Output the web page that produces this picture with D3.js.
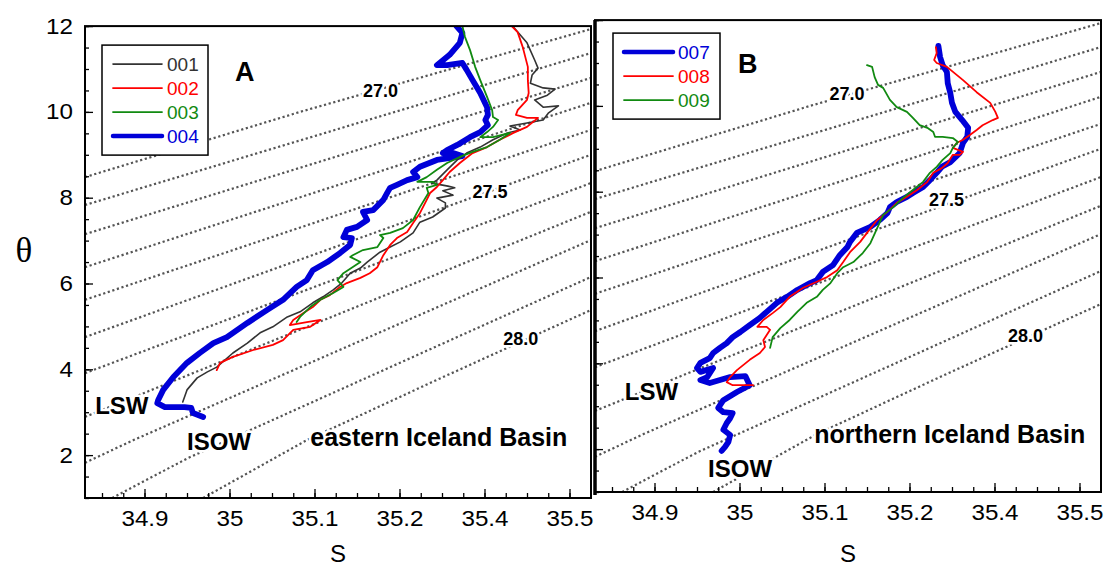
<!DOCTYPE html>
<html>
<head>
<meta charset="utf-8">
<script src="https://cdn.jsdelivr.net/npm/d3@7/dist/d3.min.js"></script>
<style>
    body { margin: 0; background: #fff; }
    svg { display: block; font-family: "Liberation Sans", Arial, sans-serif; }
</style>
</head>
<body>
<svg width="1107" height="570"></svg>
<script>
// casts, [S, theta]
const cast001 = [[35.334,11.98],[35.350,11.61],[35.359,11.21],[35.363,11.02],[35.356,10.86],[35.354,10.67],[35.369,10.56],[35.383,10.53],[35.374,10.39],[35.359,10.28],[35.369,10.11],[35.387,10.14],[35.375,9.97],[35.369,9.81],[35.350,9.74],[35.330,9.67],[35.342,9.58],[35.327,9.51],[35.310,9.35],[35.295,9.18],[35.279,9.04],[35.268,8.88],[35.256,8.65],[35.244,8.41],[35.238,8.34],[35.257,8.27],[35.265,8.23],[35.251,8.16],[35.263,8.06],[35.244,7.99],[35.254,7.88],[35.254,7.76],[35.239,7.55],[35.224,7.43],[35.216,7.18],[35.201,6.97],[35.189,6.85],[35.177,6.73],[35.162,6.50],[35.154,6.36],[35.142,6.24],[35.132,6.01],[35.122,5.85],[35.110,5.69],[35.098,5.55],[35.083,5.34],[35.068,5.22],[35.051,4.99],[35.036,4.85],[35.021,4.61],[35.004,4.38],[34.985,4.05],[34.974,3.94],[34.962,3.80],[34.950,3.52],[34.945,3.24]];
const cast002 = [[35.332,12.0],[35.339,11.86],[35.345,11.51],[35.351,11.05],[35.351,10.74],[35.352,10.44],[35.350,10.28],[35.339,10.04],[35.337,9.93],[35.350,9.86],[35.363,9.86],[35.350,9.65],[35.334,9.51],[35.318,9.35],[35.303,9.18],[35.286,9.04],[35.271,8.81],[35.259,8.60],[35.251,8.41],[35.244,8.25],[35.236,8.11],[35.232,7.95],[35.224,7.64],[35.216,7.41],[35.209,7.20],[35.197,7.06],[35.189,6.90],[35.181,6.66],[35.174,6.38],[35.165,6.24],[35.154,6.13],[35.138,6.01],[35.130,5.92],[35.118,5.73],[35.107,5.62],[35.098,5.45],[35.087,5.31],[35.075,5.15],[35.071,5.03],[35.091,5.10],[35.107,5.15],[35.095,4.99],[35.075,4.92],[35.063,4.68],[35.051,4.57],[35.028,4.45],[35.004,4.29],[34.989,4.15],[34.985,3.98]];
const cast003 = [[35.274,12.0],[35.277,11.75],[35.283,11.44],[35.289,11.05],[35.295,10.74],[35.303,10.35],[35.309,10.04],[35.310,9.88],[35.316,9.81],[35.310,9.65],[35.303,9.53],[35.295,9.41],[35.310,9.41],[35.330,9.51],[35.318,9.35],[35.303,9.18],[35.286,9.07],[35.271,8.95],[35.256,8.81],[35.244,8.65],[35.232,8.48],[35.221,8.37],[35.239,8.37],[35.244,8.30],[35.232,8.23],[35.234,8.11],[35.224,7.78],[35.216,7.48],[35.204,7.29],[35.189,7.18],[35.177,7.13],[35.181,7.06],[35.174,6.85],[35.157,6.78],[35.145,6.66],[35.142,6.62],[35.154,6.50],[35.134,6.24],[35.127,6.08],[35.134,5.92],[35.122,5.78],[35.107,5.62],[35.095,5.45],[35.083,5.22],[35.079,5.10]];
const cast004 = [[35.267,12.0],[35.274,11.84],[35.271,11.61],[35.259,11.33],[35.244,11.09],[35.256,11.09],[35.274,11.14],[35.279,10.98],[35.286,10.74],[35.295,10.44],[35.303,10.11],[35.304,9.93],[35.301,9.81],[35.304,9.69],[35.295,9.53],[35.283,9.41],[35.268,9.23],[35.256,9.11],[35.251,9.04],[35.263,9.04],[35.274,8.97],[35.244,8.88],[35.224,8.72],[35.216,8.60],[35.221,8.48],[35.209,8.41],[35.197,8.30],[35.189,8.23],[35.186,8.13],[35.181,7.95],[35.169,7.71],[35.157,7.67],[35.162,7.48],[35.150,7.32],[35.138,7.25],[35.134,7.08],[35.144,7.06],[35.142,6.90],[35.130,6.71],[35.115,6.50],[35.098,6.31],[35.091,6.08],[35.079,5.92],[35.063,5.62],[35.044,5.38],[35.021,5.08],[34.997,4.75],[34.981,4.61],[34.965,4.38],[34.950,4.15],[34.934,3.82],[34.922,3.52],[34.916,3.28],[34.915,3.21],[34.924,3.12],[34.947,3.12],[34.955,3.10],[34.957,2.98],[34.969,2.89]];
const cast007 = [[35.234,11.40],[35.236,11.14],[35.239,10.95],[35.244,10.79],[35.245,10.53],[35.248,10.30],[35.250,10.07],[35.254,9.86],[35.262,9.67],[35.269,9.49],[35.268,9.28],[35.263,9.14],[35.259,8.90],[35.248,8.69],[35.238,8.58],[35.232,8.44],[35.224,8.27],[35.216,8.11],[35.204,7.97],[35.197,7.88],[35.185,7.76],[35.177,7.64],[35.174,7.50],[35.165,7.34],[35.154,7.18],[35.138,7.04],[35.130,6.83],[35.127,6.71],[35.118,6.52],[35.110,6.29],[35.098,6.13],[35.091,5.94],[35.083,5.87],[35.068,5.71],[35.056,5.55],[35.044,5.41],[35.032,5.20],[35.024,5.06],[35.012,4.89],[35.001,4.73],[34.992,4.61],[34.985,4.47],[34.977,4.36],[34.969,4.24],[34.965,4.12],[34.954,4.01],[34.950,3.89],[34.954,3.80],[34.969,3.89],[34.962,3.68],[34.954,3.61],[34.965,3.54],[34.989,3.68],[35.007,3.70],[35.012,3.49],[34.997,3.33],[34.981,3.14],[34.975,2.96],[34.981,2.86],[34.992,2.84],[34.989,2.72],[34.985,2.61],[34.981,2.45],[34.989,2.33],[34.987,2.17],[34.983,2.05],[34.979,1.96]];
const cast008 = [[35.231,11.37],[35.232,11.23],[35.229,11.07],[35.232,11.00],[35.244,10.91],[35.263,10.60],[35.279,10.32],[35.295,10.07],[35.301,9.86],[35.304,9.72],[35.298,9.67],[35.286,9.55],[35.279,9.44],[35.271,9.32],[35.263,9.21],[35.256,9.14],[35.251,9.02],[35.263,8.93],[35.259,8.86],[35.251,8.86],[35.245,8.67],[35.238,8.55],[35.228,8.44],[35.221,8.23],[35.209,8.04],[35.197,7.88],[35.185,7.74],[35.174,7.53],[35.162,7.34],[35.150,7.04],[35.142,6.83],[35.130,6.59],[35.122,6.36],[35.115,6.17],[35.103,6.01],[35.091,5.90],[35.075,5.76],[35.059,5.55],[35.048,5.31],[35.039,5.17],[35.028,5.01],[35.021,4.85],[35.032,4.85],[35.036,4.78],[35.032,4.66],[35.028,4.54],[35.030,4.38],[35.024,4.24],[35.012,4.08],[34.997,3.84],[34.989,3.68],[34.985,3.56],[34.992,3.49],[35.016,3.49]];
const cast009 = [[35.150,10.95],[35.156,10.91],[35.159,10.67],[35.163,10.49],[35.169,10.42],[35.175,10.21],[35.177,10.14],[35.185,9.97],[35.197,9.86],[35.204,9.72],[35.212,9.55],[35.221,9.49],[35.228,9.39],[35.230,9.28],[35.239,9.28],[35.251,9.25],[35.257,9.16],[35.251,9.02],[35.248,8.90],[35.239,8.74],[35.232,8.58],[35.224,8.44],[35.216,8.23],[35.204,8.04],[35.192,7.85],[35.181,7.64],[35.169,7.46],[35.162,7.15],[35.154,6.80],[35.145,6.57],[35.134,6.36],[35.122,6.24],[35.115,6.10],[35.107,5.87],[35.098,5.71],[35.091,5.55],[35.079,5.41],[35.068,5.20],[35.059,5.01],[35.048,4.82],[35.039,4.61],[35.036,4.36]];

// sigma-theta isopycnals, 27.0 .. 28.0
const sigmaLevels = [27.0, 27.1, 27.2, 27.3, 27.4, 27.5, 27.6, 27.7, 27.8, 27.9, 28.0];
const isopycnals = [
    [[34.830,8.48],[35.083,10.00],[35.425,11.93]],
    [[34.830,7.83],[35.425,11.37]],
    [[34.830,7.15],[35.425,10.79]],
    [[34.830,6.38],[35.425,10.21]],
    [[34.830,5.62],[35.425,9.58]],
    [[34.830,4.75],[35.425,9.00]],
    [[34.830,3.91],[35.425,8.34]],
    [[34.830,2.89],[35.425,7.67]],
    [[34.830,1.82],[34.887,2.35],[35.425,7.01]],
    [[34.862,1.00],[34.951,1.93],[35.425,6.15]],
    [[34.969,1.00],[35.091,2.35],[35.238,3.70],[35.425,5.38]]
];
const sigmaLabels = ["27.0", "27.5", "28.0"];

const sTickValues = [34.9, 35.0, 35.1, 35.2, 35.3, 35.4];
const sTickLabels = ["34.9", "35", "35.1", "35.2", "35.4", "35.5"];
const thetaTickValues = [2, 4, 6, 8, 10, 12];

const sDomain = [34.83, 35.4253];
const thetaDomain = [1, 12];

let panels = [
    {
        letter: "A", left: 85, right: 591, bottom: 498, yLabels: true,
        casts: [cast001, cast002, cast003, cast004],
        names: ["001", "002", "003", "004"],
        colors: ["#333333", "#ff0000", "#118a11", "#0000d8"],
        widths: [1.6, 1.8, 1.8, 5.8],
        drawOrder: [3, 0, 1, 2],
        legend: { dx: 17, dy: 19, w: 106, h: 110, row0: 38, rowGap: 24 },
        letterPos: [150, 55],
        sigmaPos: [[35.157, 10.35], [35.286, 7.99], [35.322, 4.57]],
        notes: [
            { text: "LSW", at: [34.842, 2.96], size: 24 },
            { text: "ISOW", at: [34.950, 2.12], size: 24 },
            { text: "eastern Iceland Basin", at: [35.095, 2.21], size: 25 }
        ]
    },
    {
        letter: "B", left: 595, right: 1101, bottom: 492, yLabels: false,
        casts: [cast007, cast008, cast009],
        names: ["007", "008", "009"],
        colors: ["#0000d8", "#ff0000", "#118a11"],
        widths: [5.8, 1.8, 1.8],
        drawOrder: [0, 1, 2],
        legend: { dx: 18, dy: 13, w: 107, h: 86, row0: 32, rowGap: 24 },
        letterPos: [143, 53],
        sigmaPos: [[35.106, 10.14], [35.223, 7.67], [35.316, 4.50]],
        notes: [
            { text: "LSW", at: [34.865, 3.14], size: 24 },
            { text: "ISOW", at: [34.963, 1.35], size: 24 },
            { text: "northern Iceland Basin", at: [35.088, 2.14], size: 25 }
        ]
    }
];

let svg = d3.select("svg");

panels.forEach((p, pi) => {
    let x = d3.scaleLinear().domain(sDomain).range([p.left, p.right]);
    let y = d3.scaleLinear().domain(thetaDomain).range([p.bottom, p.bottom - 11 * 42.9]);
    let top = y(12);

    let g = svg.append("g");

    g.append("clipPath")
        .attr("id", "clip" + pi)
        .append("rect")
        .attr("x", p.left)
        .attr("y", top)
        .attr("width", p.right - p.left)
        .attr("height", p.bottom - top);

    let line = d3.line()
        .x(d => x(d[0]))
        .y(d => y(d[1]));

    // isopycnals
    g.append("g")
        .attr("clip-path", "url(#clip" + pi + ")")
        .selectAll("path")
        .data(isopycnals)
        .enter()
        .append("path")
        .attr("d", line)
        .attr("fill", "none")
        .attr("stroke", "#555")
        .attr("stroke-width", 2.2)
        .attr("stroke-dasharray", "2.2,2.6");

    // labels that cut the dotted lines
    let halo = g.append("g")
        .attr("font-weight", "bold")
        .attr("fill", "#000")
        .attr("stroke", "#fff")
        .attr("stroke-width", 5)
        .attr("paint-order", "stroke")
        .attr("stroke-linejoin", "round");

    halo.selectAll("text.sig")
        .data(sigmaLabels)
        .enter()
        .append("text")
        .attr("class", "sig")
        .attr("x", (d, i) => x(p.sigmaPos[i][0]))
        .attr("y", (d, i) => y(p.sigmaPos[i][1]))
        .attr("font-size", 18)
        .text(d => d);

    halo.selectAll("text.note")
        .data(p.notes)
        .enter()
        .append("text")
        .attr("class", "note")
        .attr("x", d => x(d.at[0]))
        .attr("y", d => y(d.at[1]))
        .attr("font-size", d => d.size)
        .text(d => d.text);

    // casts
    g.append("g")
        .attr("clip-path", "url(#clip" + pi + ")")
        .selectAll("path")
        .data(p.drawOrder)
        .enter()
        .append("path")
        .attr("d", i => line(p.casts[i]))
        .attr("fill", "none")
        .attr("stroke", i => p.colors[i])
        .attr("stroke-width", i => p.widths[i])
        .attr("stroke-linejoin", "round")
        .attr("stroke-linecap", "round");

    // axes, ticks point inward
    let minorS = d3.range(0, 24).map(i => 34.85 + i * 0.025).filter(v => v < sDomain[1]);
    let minorT = d3.range(0, 23).map(i => 1 + i * 0.5);

    g.append("g")
        .attr("transform", `translate(0,${p.bottom})`)
        .call(d3.axisBottom(x).tickValues(minorS).tickSizeInner(-5).tickSizeOuter(0).tickFormat(""))
        .call(a => a.select(".domain").remove());

    g.append("g")
        .attr("transform", `translate(0,${p.bottom})`)
        .call(d3.axisBottom(x)
            .tickValues(sTickValues)
            .tickFormat((d, i) => sTickLabels[i])
            .tickSizeInner(-9)
            .tickSizeOuter(0)
            .tickPadding(12))
        .call(a => a.select(".domain").remove())
        .call(a => a.selectAll("text")
            .attr("font-size", 22)
            .attr("font-family", "'Liberation Sans', Arial, sans-serif")
            .attr("fill", "#000")
            .attr("transform", "scale(1.1,1)"));

    g.append("g")
        .attr("transform", `translate(${p.left},0)`)
        .call(d3.axisLeft(y).tickValues(minorT).tickSizeInner(-4).tickSizeOuter(0).tickFormat(""))
        .call(a => a.select(".domain").remove());

    g.append("g")
        .attr("transform", `translate(${p.left},0)`)
        .call(d3.axisLeft(y)
            .tickValues(thetaTickValues)
            .tickFormat(p.yLabels ? d3.format("d") : "")
            .tickSizeInner(-8)
            .tickSizeOuter(0)
            .tickPadding(11))
        .call(a => a.select(".domain").remove())
        .call(a => a.selectAll("text")
            .attr("font-size", 22)
            .attr("font-family", "'Liberation Sans', Arial, sans-serif")
            .attr("fill", "#000")
            .attr("transform", "scale(1.1,1)"));

    g.selectAll(".tick line").attr("stroke", "#000").attr("stroke-width", 1.3);

    // frame
    g.append("rect")
        .attr("x", p.left)
        .attr("y", top)
        .attr("width", p.right - p.left)
        .attr("height", p.bottom - top)
        .attr("fill", "none")
        .attr("stroke", "#000")
        .attr("stroke-width", 2);

    if (pi == 1) {
        g.append("line")
            .attr("x1", p.left).attr("x2", p.left)
            .attr("y1", top).attr("y2", p.bottom + 3)
            .attr("stroke", "#000")
            .attr("stroke-width", 3.5);
    }

    // panel letter
    g.append("text")
        .attr("x", p.left + p.letterPos[0])
        .attr("y", top + p.letterPos[1])
        .attr("font-size", 27)
        .attr("font-weight", "bold")
        .text(p.letter);

    // legend
    let lg = p.legend;
    let leg = g.append("g")
        .attr("transform", `translate(${p.left + lg.dx},${top + lg.dy})`);

    leg.append("rect")
        .attr("width", lg.w)
        .attr("height", lg.h)
        .attr("fill", "#fff")
        .attr("stroke", "#000")
        .attr("stroke-width", 1.5);

    let rows = leg.selectAll("g.row")
        .data(p.names)
        .enter()
        .append("g")
        .attr("class", "row")
        .attr("transform", (d, i) => `translate(0,${lg.row0 - lg.dy + i * lg.rowGap})`);

    rows.append("line")
        .attr("x1", 11)
        .attr("x2", 60)
        .attr("stroke", (d, i) => p.colors[i])
        .attr("stroke-width", (d, i) => Math.min(p.widths[i], 4.5))
        .attr("stroke-linecap", "round");

    rows.append("text")
        .attr("x", 65)
        .attr("y", 7)
        .attr("font-size", 19)
        .attr("fill", (d, i) => p.colors[i])
        .text(d => d);

    // x title
    g.append("text")
        .attr("x", (p.left + p.right) / 2)
        .attr("y", 562)
        .attr("text-anchor", "middle")
        .attr("font-size", 24)
        .text("S");
});

svg.append("text")
    .attr("x", 24)
    .attr("y", 262)
    .attr("text-anchor", "middle")
    .attr("font-family", "'Liberation Serif', 'Times New Roman', serif")
    .attr("font-size", 35)
    .text("θ");
</script>
</body>
</html>
